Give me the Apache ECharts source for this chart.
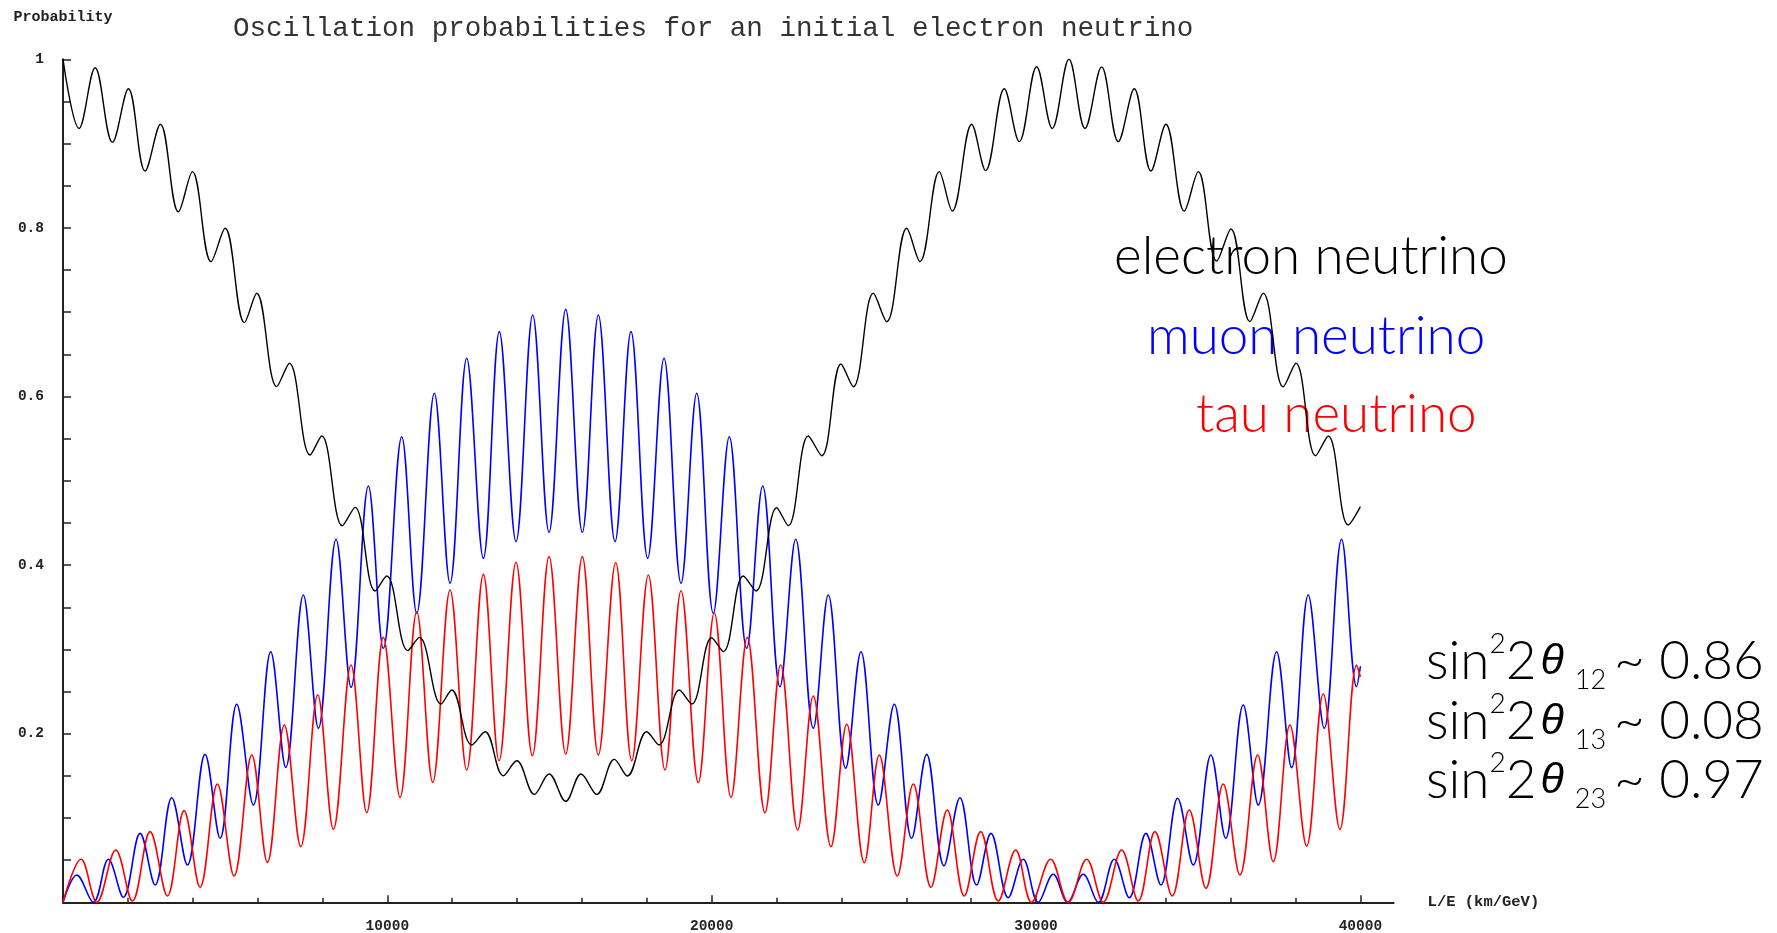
<!DOCTYPE html>
<html><head><meta charset="utf-8">
<script src="https://cdn.jsdelivr.net/npm/echarts@6/dist/echarts.min.js"></script>
<style>html,body{margin:0;padding:0;background:#fff;}#c{width:1777px;height:933px;}</style>
</head><body><div id="c"></div>
<script>
const titleText = 'Oscillation probabilities for an initial electron neutrino';
const yAxisName = 'Probability';
const xAxisName = 'L/E (km/GeV)';
const seriesNames = ['electron neutrino', 'muon neutrino', 'tau neutrino'];
const seriesColors = ['#000000', '#0000ff', '#ff0000'];
const yTickLabels = ['0.2', '0.4', '0.6', '0.8', '1'];
const xTickLabels = ['10000', '20000', '30000', '40000'];
const mixingAngles = ['12', '13', '23'];
const mixingValues = ['0.86', '0.08', '0.97'];

// electron neutrino (black) – extrema
const electronX = [0,496,990,1523,2017,2531,3003,3558,3990,4565,4997,5593,5973,6590,6980,7617,7977,8613,9004,9621,9981,10629,10987,11655,11985,12602,13012,13576,13989,14532,14985,15499,15971,16455,16998,17399,17996,18375,19002,19384,20000,20358,20975,21366,22004,22361,22978,23391,23986,24365,24982,25395,26011,26421,27016,27417,28015,28446,29020,29482,30018,30499,31015,31508,32022,32535,33028,33542,34004,34569,35001,35568,36009,36594,37004,37621,38012,38619,39008,39624,40000];
const electronP = [1.0,0.918,0.990,0.9015,0.965,0.8675,0.923,0.819,0.8667,0.760,0.7995,0.6876,0.7224,0.6117,0.6394,0.5306,0.5531,0.4467,0.4685,0.3693,0.387,0.2985,0.3143,0.2352,0.2518,0.1866,0.2024,0.1502,0.168,0.128,0.1522,0.1198,0.1522,0.128,0.1696,0.1498,0.2024,0.1866,0.2518,0.2352,0.3139,0.2973,0.387,0.3693,0.468,0.4467,0.5531,0.5298,0.6386,0.6116,0.7224,0.6888,0.7995,0.760,0.8667,0.82,0.923,0.868,0.965,0.9023,0.9912,0.918,1.0,0.918,0.991,0.9023,0.965,0.8675,0.923,0.82,0.8667,0.7607,0.7987,0.6888,0.7224,0.6116,0.6394,0.5298,0.5531,0.4476,0.4693];

// muon neutrino (blue)
const muonX = [0,425,937,1400,1862,2377,2839,3353,3835,4380,4843,5357,5869,6405,6868,7411,7873,8419,8881,9415,9877,10444,10906,11449,11933,12447,12960,13452,13967,14482,14985,15499,16011,16505,17019,17512,18027,18530,19054,19538,20049,20542,21079,21572,22105,22590,23132,23594,24131,24602,25136,25629,26165,26627,27161,27654,28169,28610,29143,29606,30068,30530,30974,31455,31918,32411,32874,33388,33850,34365,34846,35392,35845,36388,36850,37417,37879,38391,38885,39420,39883,40000];
const muonP = [0,0.0324,0,0.051,0.006,0.0818,0.0205,0.124,0.0442,0.1755,0.0759,0.2349,0.1154,0.2973,0.160,0.3645,0.2064,0.4306,0.255,0.4938,0.3013,0.5523,0.3428,0.6038,0.3784,0.6453,0.408,0.6769,0.4278,0.6967,0.4389,0.7034,0.4389,0.6967,0.4278,0.6769,0.408,0.6453,0.3784,0.6038,0.3428,0.5523,0.3013,0.4938,0.2557,0.4306,0.2064,0.3645,0.159,0.2973,0.1154,0.2349,0.0759,0.1755,0.0434,0.124,0.0205,0.0818,0.0055,0.051,0,0.0332,0,0.0332,0,0.051,0.0055,0.0818,0.0205,0.1235,0.0442,0.1747,0.0759,0.234,0.1154,0.2973,0.1597,0.3645,0.2064,0.4306,0.2557,0.28];

// tau neutrino (red)
const tauX = [0,558,1042,1627,2140,2685,3218,3733,4226,4760,5274,5820,6301,6825,7330,7854,8336,8881,9364,9877,10392,10906,11399,11933,12447,12960,13444,13967,14470,14985,15499,16011,16505,17040,17534,18046,18560,19054,19587,20080,20595,21098,21643,22127,22651,23132,23678,24162,24705,25167,25722,26215,26760,27262,27787,28293,28835,29371,29864,30450,30992,31560,32072,32639,33151,33666,34198,34723,35237,35771,36285,36831,37312,37827,38342,38855,39367,39883,40000];
const tauP = [0,0.051,0,0.062,0.0015,0.0838,0.0075,0.1087,0.0178,0.1403,0.0312,0.1747,0.0474,0.2103,0.066,0.2459,0.0866,0.2815,0.1063,0.3143,0.1245,0.3447,0.1423,0.3705,0.157,0.389,0.168,0.4033,0.1739,0.41,0.1759,0.41,0.1747,0.403,0.168,0.3883,0.157,0.3696,0.1419,0.3435,0.1245,0.3143,0.1063,0.2815,0.0858,0.2447,0.066,0.2112,0.047,0.1747,0.0312,0.1403,0.0178,0.1095,0.0075,0.0838,0.0015,0.062,0,0.051,0,0.051,0,0.062,0.0015,0.0838,0.0075,0.1095,0.0166,0.1403,0.0324,0.1747,0.0482,0.2103,0.0668,0.2471,0.0866,0.2815,0.2676];

const pairs = (xs, ys) => xs.map((x, i) => [x, ys[i]]);
const monoFont = 'Liberation Mono';
const smallLabel = {fontFamily: monoFont, fontWeight: 'bold', fontSize: 14.5, color: '#222'};
const annFont = 'Lato';
const annWeight = 300;
const annSize = 53;

const chart = echarts.init(document.getElementById('c'), null, {renderer: 'canvas'});

function lineSeries(name, xs, ys, color, width) {
  return {
    name: name, type: 'line', xAxisIndex: 0, yAxisIndex: 0,
    data: pairs(xs, ys), smooth: 0.37, symbol: 'none', clip: true,
    lineStyle: {color: color, width: width}, emphasis: {disabled: true}, silent: true
  };
}

function formulaText(i) {
  return '{m|sin}{sup|2}{m|2}{t|\u03b8}{sub|' + mixingAngles[i] + '}{v|~ ' + mixingValues[i] + '}';
}
const formulaRich = {
  m: {fontFamily: annFont, fontWeight: annWeight, fontSize: 53, lineHeight: 64, fill: '#000'},
  v: {fontFamily: annFont, fontWeight: annWeight, fontSize: 53, lineHeight: 64, fill: '#000', padding: [0, 0, 0, 8]},
  sup: {fontFamily: annFont, fontWeight: annWeight, fontSize: 28, lineHeight: 48, verticalAlign: 'top', fill: '#000'},
  sub: {fontFamily: annFont, fontWeight: annWeight, fontSize: 27, lineHeight: 26, verticalAlign: 'bottom', fill: '#000', padding: [0, 0, 0, 11]},
  t: {fontFamily: 'Liberation Sans', fontStyle: 'italic', fontWeight: 400, fontSize: 43, lineHeight: 64, fill: '#000', padding: [0, 0, 0, 4]}
};

const option = {
  animation: false,
  backgroundColor: '#ffffff',
  title: {
    text: titleText, left: 228, top: 10,
    textStyle: {fontFamily: monoFont, fontWeight: 'normal', fontSize: 27.6, color: '#333'}
  },
  grid: [
    {left: 63, right: 416.6, top: 59.3, bottom: 30.7, outerBoundsMode: 'none'},
    {left: 63, right: 383.4, top: 59.3, bottom: 30.7, outerBoundsMode: 'none'}
  ],
  xAxis: [
    {
      type: 'value', gridIndex: 0, min: 0, max: 40000, interval: 10000,
      axisLine: {show: false},
      axisTick: {show: true, inside: true, length: 7, lineStyle: {color: '#222', width: 1.5}},
      minorTick: {show: true, splitNumber: 5, length: 4.5, lineStyle: {color: '#222', width: 1.5}},
      axisLabel: {
        margin: 17, ...smallLabel,
        formatter: v => { const k = Math.round(v / 10000); return (k >= 1 && k <= 4) ? xTickLabels[k - 1] : ''; }
      },
      splitLine: {show: false}
    },
    {
      type: 'value', gridIndex: 1, min: 0, max: 1,
      axisLine: {show: true, lineStyle: {color: '#222', width: 2}},
      axisTick: {show: false}, axisLabel: {show: false}, splitLine: {show: false},
      name: xAxisName, nameLocation: 'end', nameGap: 34,
      nameTextStyle: {fontFamily: monoFont, fontWeight: 'bold', fontSize: 15.5, color: '#222'}
    }
  ],
  yAxis: [
    {
      type: 'value', gridIndex: 0, min: 0, max: 1, interval: 0.05,
      axisLine: {show: true, lineStyle: {color: '#222', width: 2}},
      axisTick: {show: true, inside: true, length: 8, lineStyle: {color: '#222', width: 1.5}},
      axisLabel: {
        margin: 19, ...smallLabel,
        formatter: v => { const k = Math.round(v * 20); return (k > 0 && k % 4 === 0) ? yTickLabels[k / 4 - 1] : ''; }
      },
      splitLine: {show: false},
      name: yAxisName, nameLocation: 'end', nameGap: 35,
      nameTextStyle: {fontFamily: monoFont, fontWeight: 'bold', fontSize: 15, color: '#222', align: 'center'}
    },
    {type: 'value', gridIndex: 1, min: 0, max: 1, show: false}
  ],
  series: [
    lineSeries(seriesNames[1], muonX, muonP, seriesColors[1], 1.6),
    lineSeries(seriesNames[2], tauX, tauP, seriesColors[2], 1.6),
    lineSeries(seriesNames[0], electronX, electronP, seriesColors[0], 1.4)
  ],
  graphic: [
    {type: 'text', x: 1114, y: 257, silent: true, style: {text: seriesNames[0], fontFamily: annFont, fontWeight: annWeight, fontSize: annSize, fill: seriesColors[0], align: 'left', verticalAlign: 'middle'}},
    {type: 'text', x: 1147, y: 337, silent: true, style: {text: seriesNames[1], fontFamily: annFont, fontWeight: annWeight, fontSize: annSize, fill: seriesColors[1], align: 'left', verticalAlign: 'middle'}},
    {type: 'text', x: 1196, y: 415, silent: true, style: {text: seriesNames[2], fontFamily: annFont, fontWeight: annWeight, fontSize: annSize, fill: seriesColors[2], align: 'left', verticalAlign: 'middle'}},
    {type: 'text', x: 1426, y: 662, silent: true, style: {text: formulaText(0), rich: formulaRich, align: 'left', verticalAlign: 'middle'}},
    {type: 'text', x: 1426, y: 722, silent: true, style: {text: formulaText(1), rich: formulaRich, align: 'left', verticalAlign: 'middle'}},
    {type: 'text', x: 1426, y: 781, silent: true, style: {text: formulaText(2), rich: formulaRich, align: 'left', verticalAlign: 'middle'}}
  ]
};
chart.setOption(option);
</script></body></html>
